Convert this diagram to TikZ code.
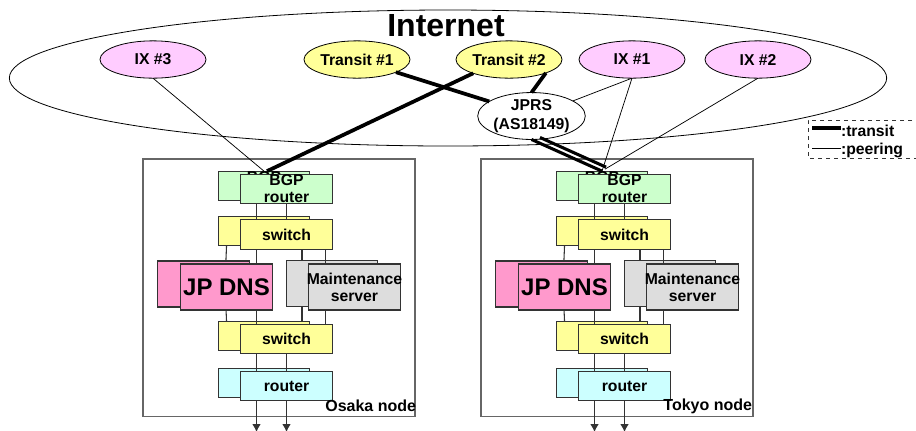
\documentclass[tikz,border=0pt]{standalone}
\usepackage{fontspec}
\setmainfont{Liberation Sans}
\usetikzlibrary{shapes.geometric,arrows.meta}
\definecolor{ixpink}{HTML}{FFCCFF}
\definecolor{pale}{HTML}{FFFF99}
\definecolor{bgpgreen}{HTML}{CCFFCC}
\definecolor{routercyan}{HTML}{CCFFFF}
\definecolor{dnspink}{HTML}{FF99CC}
\definecolor{maintgray}{HTML}{DDDDDD}
\definecolor{edgegray}{HTML}{333333}
\definecolor{boxgray}{HTML}{666666}
\tikzset{
  x=0.75pt,y=-0.75pt,
  base/.style={font=\bfseries\fontsize{11.8}{12.8}\selectfont,align=center,inner sep=0pt,outer sep=0pt},
  oval/.style={base,ellipse,draw=black,line width=0.6pt,minimum width=79.5pt,minimum height=28pt},
  ixoval/.style={oval,fill=ixpink},
  transoval/.style={oval,fill=pale},
  jprsoval/.style={oval,fill=white,font=\bfseries\fontsize{11.8}{14.2}\selectfont},
  card/.style={base,rectangle,draw=edgegray,line width=0.8pt,minimum width=68.6pt,minimum height=22.3pt},
  bgpcard/.style={card,fill=bgpgreen},
  switchcard/.style={card,fill=pale},
  routercard/.style={card,fill=routercyan},
  dnscard/.style={card,fill=dnspink,minimum height=34.5pt},
  maintcard/.style={card,fill=maintgray,minimum height=34.5pt},
  sitebox/.style={draw=boxgray,line width=0.8pt,minimum width=204pt,minimum height=192.8pt,inner sep=0pt,outer sep=0pt},
  sitelabel/.style={base,anchor=east,font=\bfseries\fontsize{12}{13}\selectfont},
  link/.style={draw=edgegray,line width=0.8pt},
  peering/.style={draw=black,line width=0.55pt},
  transit/.style={draw=black,line width=2.8pt},
  dualtransit/.style={draw=black,line width=2.3pt},
  outlink/.style={link,-{Latex[length=6pt,width=6.5pt]}},
  legendbox/.style={draw=edgegray,line width=0.7pt,dashed},
  legendtext/.style={base,anchor=west}
}
\newcommand{\sitenode}[4]{%
\begin{scope}[shift={(#1,0)},name prefix=#2-]
  \node[sitebox] (box) at (279,287.5) {};
  \node[bgpcard] (bgpB) at (264,186) {BGP\\router};
  \node[switchcard] (swB) at (264,231) {switch};
  \node[dnscard] (dnsB) at (203.5,284) {};
  \node[maintcard] (mntB) at (332,283.5) {};
  \node[switchcard] (swlB) at (264,336) {switch};
  \node[routercard] (rtB) at (264,383) {};
  \draw[link] ([xshift=-28.1pt]swB.south) -- ([xshift=16.8pt]dnsB.north);
  \draw[link] ([xshift=28.5pt]swB.south) -- ([xshift=-22.5pt]mntB.north);
  \draw[link] ([xshift=16.8pt]dnsB.south) -- ([xshift=-28.1pt]swlB.north);
  \draw[link] ([xshift=-22.5pt]mntB.south) -- ([xshift=28.5pt]swlB.north);
  \node[bgpcard] (bgpF) at (286.5,189) {BGP\\router};
  \node[switchcard] (swF) at (286.5,234.5) {switch};
  \node[dnscard,font=\bfseries\fontsize{18}{19}\selectfont] (dnsF) at (226.5,287) {\makebox[0pt][c]{JP DNS}};
  \node[maintcard] (mntF) at (354.5,287) {\makebox[0pt][c]{Maintenance}\\server};
  \node[switchcard] (swlF) at (286.5,339) {switch};
  \node[routercard] (rtF) at (286.5,386) {router};
  \draw[link] ([xshift=-22.5pt]bgpF.south) -- ([xshift=-22.5pt]swF.north);
  \draw[link] (bgpF.south) -- (swF.north);
  \draw[link] ([xshift=-22.5pt]swF.south) -- ([xshift=22.5pt]dnsF.north);
  \draw[link] ([xshift=-22.5pt]swlF.north) -- ([xshift=22.5pt]dnsF.south);
  \draw[link] ([xshift=29pt]swF.south) -- ([xshift=-22pt]mntF.north);
  \draw[link] ([xshift=29pt]swlF.north) -- ([xshift=-22pt]mntF.south);
  \draw[link] ([xshift=-22.5pt]swlF.south) -- ([xshift=-22.5pt]rtF.north);
  \draw[link] (swlF.south) -- (rtF.north);
  \coordinate (outA) at (256.5,432);
  \coordinate (outB) at (286.5,432);
  \draw[outlink] ([xshift=-22.5pt]rtF.south) -- (outA);
  \draw[outlink] (rtF.south) -- (outB);
  \node[sitelabel] (lbl) at (#3,406) {#4};
\end{scope}}
\begin{document}
\begin{tikzpicture}
\useasboundingbox (0,0) rectangle (916,430);
\clip (0,0) rectangle (916,430);
\fill[white] (0,0) rectangle (916,430);
\node[ellipse,draw=black,line width=0.6pt,minimum width=658pt,minimum height=102pt,inner sep=0pt,outer sep=0pt] (net) at (448,78) {};
\node[base,font=\bfseries\fontsize{24}{26}\selectfont] (nettext) at (446,26) {Internet};
\sitenode{0}{o}{416}{Osaka node}
\sitenode{338}{t}{414}{Tokyo node}
\node[ixoval] (ix3) at (153,59.5) {IX \#3};
\node[transoval] (tr1) at (357,59.5) {Transit \#1};
\node[transoval] (tr2) at (509,59.5) {Transit \#2};
\node[ixoval] (ix1) at (632,59.5) {IX \#1};
\node[ixoval] (ix2) at (758,59.5) {IX \#2};
\node[jprsoval] (jprs) at (531.5,116) {JPRS\\(AS18149)};
\draw[peering] (ix3.south) -- (o-bgpB.north);
\draw[transit] (tr2.201) -- ([shift={(3,0)}]o-bgpB.north);
\draw[transit] (tr1.-18) -- (jprs.161);
\draw[transit] (tr2.-20) -- (jprs.north);
\draw[peering] (ix1.south) -- (jprs.20);
\draw[peering] (ix1.south) -- (t-bgpB.north);
\draw[peering] (ix2.south) -- ([shift={(3,-2)}]t-bgpB.north);
\draw[dualtransit] (jprs.south) -- (t-bgpB.north);
\draw[dualtransit] ([shift={(8.5,-2)}]jprs.south) -- ([shift={(4,-4)}]t-bgpB.north);
\coordinate (lgA) at (812,128);
\coordinate (lgB) at (841,128);
\coordinate (lgC) at (812,148.5);
\coordinate (lgD) at (841,148.5);
\draw[legendbox] (920,120) -- (808,120) -- (808,158) -- (920,158);
\draw[transit] (lgA) -- (lgB);
\draw[peering] (lgC) -- (lgD);
\node[legendtext] (lgT) at (841,131) {:transit};
\node[legendtext] (lgP) at (841,150) {:peering};
\end{tikzpicture}
\end{document}
